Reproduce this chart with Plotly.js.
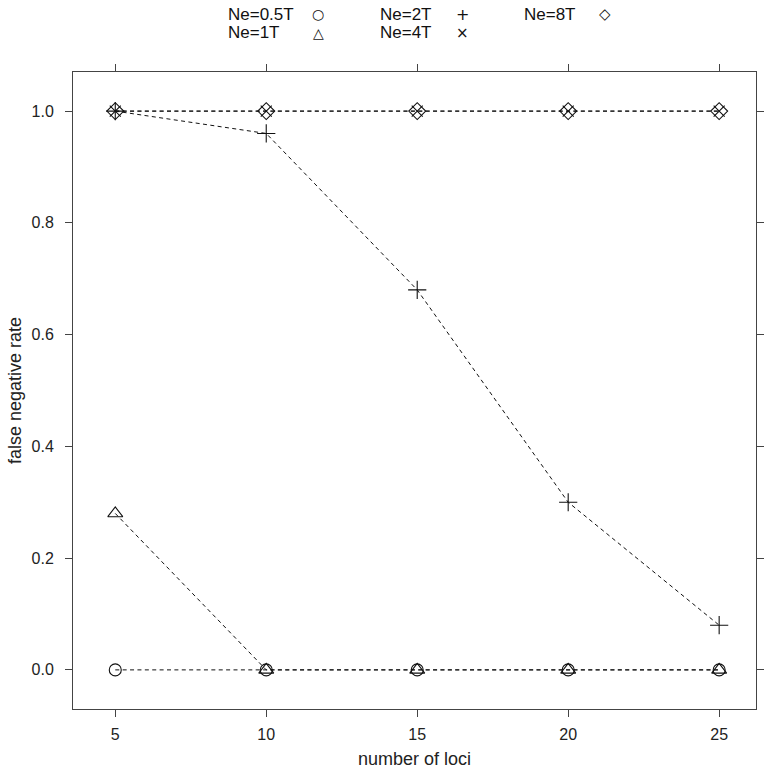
<!DOCTYPE html>
<html>
<head>
<meta charset="utf-8">
<script src="https://cdn.plot.ly/plotly-3.0.1.min.js"></script>
<style>
  body { margin: 0; background: #fff; }
  #plot { width: 766px; height: 772px; }
</style>
</head>
<body>
<div id="plot"></div>
<script>
const loci = [5, 10, 15, 20, 25];
const seriesNames = ['Ne=0.5T', 'Ne=1T', 'Ne=2T', 'Ne=4T', 'Ne=8T'];
const ne05 = [0, 0, 0, 0, 0];
const ne1 = [0.28, 0, 0, 0, 0];
const ne2 = [1.0, 0.96, 0.68, 0.30, 0.08];
const ne4 = [1, 1, 1, 1, 1];
const ne8 = [1, 1, 1, 1, 1];
const keyGlyphs = ['○', '△', '+', '×', '◇'];

const symbols = ['circle-open', 'triangle-up-open', 'cross-thin-open', 'x-thin-open', 'diamond-open'];
const sizes = [12, 13, 13, 11, 13];
const allSeries = [ne05, ne1, ne2, ne4, ne8];

// plot box in pixels (margins)
const L = 73, R = 756, T = 72, B = 709;

const data = allSeries.map((vals, i) => ({
    x: loci,
    y: vals,
    name: seriesNames[i],
    type: 'scatter',
    mode: 'lines+markers',
    line: { color: '#111', width: 1, dash: '4px,3.39px' },
    marker: {
        symbol: symbols[i],
        size: sizes[i],
        color: '#111',
        line: { color: '#111', width: 1.1 }
    },
    showlegend: false
}));

// key above the panel, lattice style: label then symbol, filled column by column
const colText = [226, 378, 522];
const colSym = [318, 462, 605];
const rowY = [14, 33];
const glyphSize = [14, 14, 16, 15, 15];
const annotations = [];
seriesNames.forEach((nm, i) => {
    const c = Math.floor(i / 2), r = i % 2;
    const yp = 1 + (T - rowY[r]) / (B - T);
    annotations.push({
        xref: 'paper', yref: 'paper',
        x: (colText[c] - L) / (R - L), y: yp,
        xanchor: 'left', yanchor: 'middle',
        text: nm, showarrow: false,
        font: { size: 17, color: '#111' }
    });
    annotations.push({
        xref: 'paper', yref: 'paper',
        x: (colSym[c] - L) / (R - L), y: yp,
        xanchor: 'center', yanchor: 'middle',
        text: keyGlyphs[i], showarrow: false,
        font: { family: 'DejaVu Sans', size: glyphSize[i], color: '#111' }
    });
});

const axisCommon = {
    showline: true,
    mirror: 'ticks',
    linecolor: '#444',
    linewidth: 1,
    ticks: 'outside',
    ticklen: 7,
    tickcolor: '#444',
    showgrid: false,
    zeroline: false,
    tickfont: { size: 16, color: '#222' }
};

const layout = {
    width: 766,
    height: 772,
    margin: { l: L, r: 766 - R, t: T, b: 772 - B },
    paper_bgcolor: '#fff',
    plot_bgcolor: '#fff',
    font: { family: 'Liberation Sans, Arial, sans-serif', color: '#222' },
    xaxis: Object.assign({}, axisCommon, {
        range: [3.6, 26.22],
        tickvals: loci,
        ticklabelstandoff: 4,
        title: { text: 'number of loci', font: { size: 18 }, standoff: 10 }
    }),
    yaxis: Object.assign({}, axisCommon, {
        range: [-0.07, 1.07],
        tickvals: [0, 0.2, 0.4, 0.6, 0.8, 1.0],
        ticktext: ['0.0', '0.2', '0.4', '0.6', '0.8', '1.0'],
        ticklabelstandoff: 8,
        title: { text: 'false negative rate', font: { size: 18 }, standoff: 5 }
    }),
    annotations: annotations
};

Plotly.newPlot('plot', data, layout, { displayModeBar: false, staticPlot: true });
</script>
</body>
</html>
